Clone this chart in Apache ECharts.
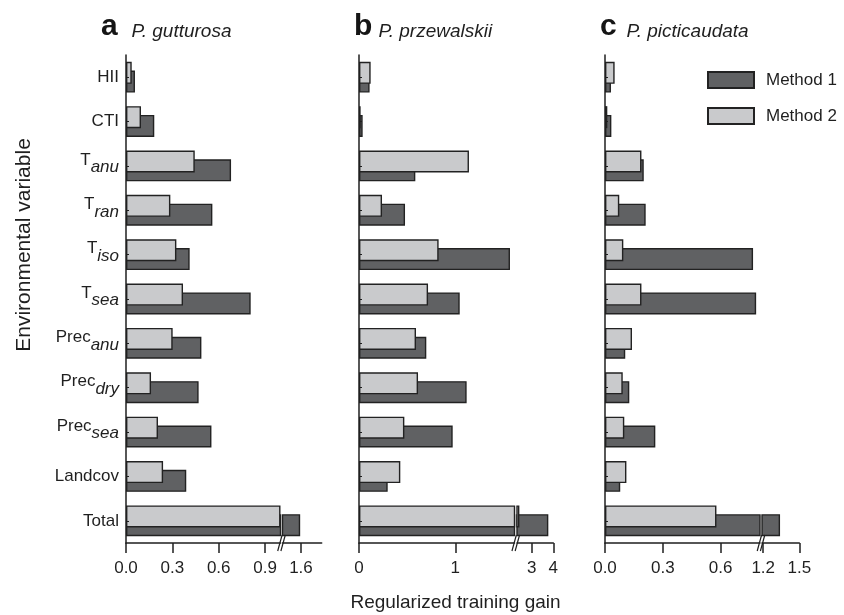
<!DOCTYPE html>
<html>
<head>
<meta charset="utf-8">
<script src="https://cdn.jsdelivr.net/npm/echarts@6/dist/echarts.min.js"></script>
<style>html,body{margin:0;padding:0;background:#fff}#c{width:844px;height:615px}</style>
</head>
<body>
<div id="c"></div>
<script>
// ---- data ----
const categories = ['HII','CTI','T_anu','T_ran','T_iso','T_sea','Prec_anu','Prec_dry','Prec_sea','Landcov','Total'];
const seriesNames = ['Method 1','Method 2'];
const panelLetters = ['a','b','c'];
const speciesNames = ['P. gutturosa','P. przewalskii','P. picticaudata'];

const gutturosaM1 = [0.058,0.183,0.680,0.559,0.412,0.807,0.488,0.470,0.553,0.390,1.595];
const gutturosaM2 = [0.037,0.097,0.445,0.287,0.326,0.369,0.302,0.162,0.207,0.240,1.000];
const przewalskiiM1 = [0.110,0.038,0.585,0.478,1.568,1.046,0.699,1.118,0.973,0.298,3.77];
const przewalskiiM2 = [0.121,0.017,1.142,0.239,0.827,0.717,0.592,0.613,0.471,0.429,2.43];
const picticaudataM1 = [0.031,0.033,0.201,0.211,0.768,0.784,0.105,0.126,0.261,0.079,1.34];
const picticaudataM2 = [0.050,0.012,0.189,0.074,0.095,0.189,0.140,0.092,0.100,0.111,0.578];

const ticksA = [[0,0.3,0.6,0.9],[1.6]];
const ticksB = [[0,1],[3,4]];
const ticksC = [[0,0.3,0.6],[1.2,1.5]];

const xTitle = 'Regularized training gain';
const yTitle = 'Environmental variable';

// ---- layout / styling ----
const FONT = 'Liberation Sans, Arial, Helvetica, sans-serif';
const TXT = '#1f1f1f';
const DARK = '#606163';
const LIGHT = '#c9cacc';
const EDGE = '#222222';
const gridTop = 55, gridHeight = 488;

const panels = [
  {m1: gutturosaM1, m2: gutturosaM2, ticks: ticksA, fmt: v => v.toFixed(1),
   segs: [{left:126, width:154.5, min:0, max:1.0}, {left:282.5, width:39.2, min:1.48, max:1.735}]},
  {m1: przewalskiiM1, m2: przewalskiiM2, ticks: ticksB, fmt: v => String(v),
   segs: [{left:359, width:155.5, min:0, max:1.615}, {left:517, width:36.3, min:2.32, max:4}]},
  {m1: picticaudataM1, m2: picticaudataM2, ticks: ticksC, fmt: v => v.toFixed(1),
   segs: [{left:605, width:155, min:0, max:0.804}, {left:762, width:37.3, min:1.19, max:1.5}]}
];

const grids = [], xAxes = [], yAxes = [], series = [], graphics = [];

function catLabel(v) {
  const i = v.indexOf('_');
  if (i < 0) return '{p|' + v + '}';
  return '{m|' + v.slice(0, i) + '}{s|' + v.slice(i + 1) + '}';
}

panels.forEach((p, pi) => {
  p.segs.forEach((s, si) => {
    const g = grids.length;
    grids.push({left: s.left, width: s.width, top: gridTop, height: gridHeight, containLabel: false});
    xAxes.push({
      type: 'value', gridIndex: g, min: s.min, max: s.max,
      axisLine: {show: true, lineStyle: {color: TXT, width: 1.5}},
      axisTick: {show: true, length: 10, customValues: p.ticks[si], lineStyle: {color: TXT, width: 1.5}},
      axisLabel: {customValues: p.ticks[si], formatter: p.fmt, fontSize: 17, color: TXT, fontFamily: FONT, margin: 17},
      splitLine: {show: false}
    });
    const isLeft = si === 0;
    yAxes.push({
      type: 'category', gridIndex: g, data: categories, inverse: true, z: 5,
      axisLine: {show: isLeft, lineStyle: {color: TXT, width: 1.5}},
      axisTick: {show: isLeft, inside: true, length: 3, alignWithLabel: true, lineStyle: {color: TXT, width: 1}},
      axisLabel: {
        show: isLeft && pi === 0, margin: 7, formatter: catLabel, color: TXT, fontFamily: FONT, fontSize: 17,
        rich: {
          p: {fontSize: 17, fontFamily: FONT, color: TXT, lineHeight: 17},
          m: {fontSize: 17, fontFamily: FONT, color: TXT, lineHeight: 17, padding: [0, 0, 12, 0]},
          s: {fontSize: 17, fontFamily: FONT, color: TXT, fontStyle: 'italic', lineHeight: 17, padding: [7.5, 0, 4.5, 0]}
        }
      }
    });
    series.push({
      type: 'bar', name: seriesNames[1], xAxisIndex: g, yAxisIndex: g, data: p.m2,
      barWidth: 22, barGap: '-60%', z: 3, clip: true, silent: true,
      itemStyle: {color: LIGHT, borderColor: EDGE, borderWidth: 1.4}
    });
    series.push({
      type: 'bar', name: seriesNames[0], xAxisIndex: g, yAxisIndex: g, data: p.m1,
      barWidth: 22, barGap: '-60%', z: 2, clip: true, silent: true,
      itemStyle: {color: DARK, borderColor: EDGE, borderWidth: 1.4}
    });
  });
  // break marks on the axis
  const L = p.segs[0], R = p.segs[1];
  const bx = (L.left + L.width + R.left) / 2;
  const by = gridTop + gridHeight;
  [-1.6, 1.6].forEach(d => {
    graphics.push({type: 'line', z: 20, shape: {x1: bx + d - 2.2, y1: by + 8, x2: bx + d + 2.2, y2: by - 8},
      style: {stroke: TXT, lineWidth: 1.2}});
  });
});

const titleLeft = [[101, 131.5], [354, 378.5], [600, 626.5]];
const titles = [];
panelLetters.forEach((l, i) => {
  titles.push({text: l, left: titleLeft[i][0], top: 12, padding: 0,
    textStyle: {fontSize: 30, fontWeight: 'bold', fontFamily: FONT, color: '#151515'}});
  titles.push({text: speciesNames[i], left: titleLeft[i][1], top: 22, padding: 0,
    textStyle: {fontSize: 19, fontWeight: 'normal', fontStyle: 'italic', fontFamily: FONT, color: TXT}});
});

graphics.push({type: 'text', x: 24, y: 245, rotation: Math.PI / 2,
  style: {text: yTitle, fontSize: 21, fontFamily: FONT, fill: TXT, align: 'center', verticalAlign: 'middle'}});
graphics.push({type: 'text', x: 455.5, y: 603,
  style: {text: xTitle, fontSize: 19, fontFamily: FONT, fill: TXT, align: 'center', verticalAlign: 'middle'}});

const chart = echarts.init(document.getElementById('c'), null, {renderer: 'canvas'});
chart.setOption({
  animation: false,
  backgroundColor: '#fff',
  title: titles,
  legend: {
    data: seriesNames, orient: 'vertical', left: 707, top: 71, padding: 0,
    itemWidth: 46, itemHeight: 16, itemGap: 18, icon: 'rect', selectedMode: false,
    formatter: '{t|{name}}',
    textStyle: {fontSize: 17, fontFamily: FONT, color: TXT,
      rich: {t: {fontSize: 17, fontFamily: FONT, color: TXT, lineHeight: 16, padding: [0, 0, 0, 7]}}}
  },
  grid: grids,
  xAxis: xAxes,
  yAxis: yAxes,
  series: series,
  graphic: graphics
});
</script>
</body>
</html>
